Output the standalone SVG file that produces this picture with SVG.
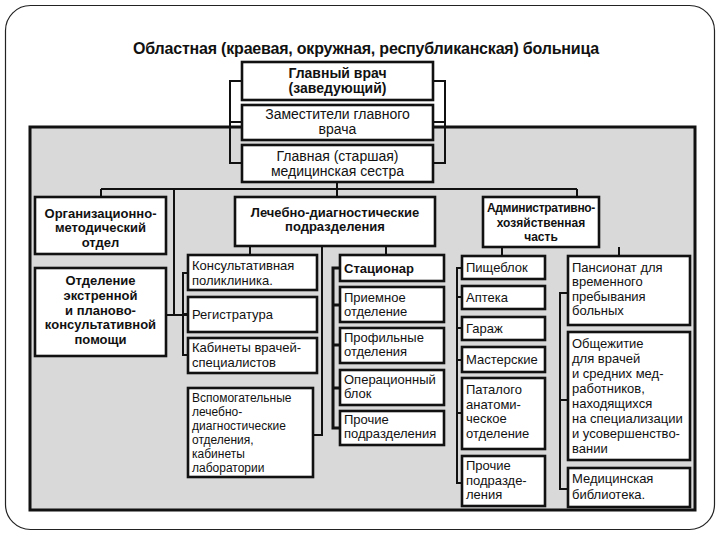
<svg xmlns="http://www.w3.org/2000/svg" width="720" height="540" viewBox="0 0 720 540">
<style>
.box{fill:#fff;stroke:#111;stroke-width:2.6}
.ln{fill:none;stroke:#111;stroke-width:2}
.lnb{fill:none;stroke:#111;stroke-width:3}
text{font-family:"Liberation Sans",Arial,sans-serif;font-size:13px;fill:#111}
.c{text-anchor:middle}
.b{font-weight:bold}
.big{font-size:14px}
.sm{font-size:12px}
</style>
<rect x="0" y="0" width="720" height="540" fill="#fff"/>
<rect x="5.5" y="5.5" width="709" height="524" rx="25" fill="#fff" stroke="#222" stroke-width="1.2"/>
<text x="366" y="54" class="c b" style="font-size:16px;letter-spacing:-0.2px">Областная (краевая, окружная, республиканская) больница</text>
<rect x="30" y="127" width="665" height="383" fill="#d9d9d9" stroke="#111" stroke-width="3"/>

<g id="connectors">
<path class="ln" d="M242,81 H230 V163 H242 M230,122 H242"/>
<path class="ln" d="M433,81 H445 V163 H433 M445,122 H433"/>
<path class="ln" d="M337,182 V197 M101,189 H577 M101,189 V197 M174,189 V315 M166,315 H188 M577,189 V197"/>
<path class="ln" d="M250,246 V255 M322,246 V435 H313 M386,246 V255"/>
<path class="ln" d="M188,273 H183 V355 H188 M183,314 H188"/>
<path class="lnb" d="M340,268 H333 V428 H340 M333,305 H340 M333,345 H340 M333,388 H340"/>
<path class="ln" d="M502,247 V256 M619,247 V256"/>
<path class="ln" d="M462,268 H457 V483 H462 M457,297 H462 M457,328 H462 M457,360 H462 M457,413 H462"/>
<path class="ln" d="M568,293 H560 V489 H568 M560,400 H568"/>
</g>

<g id="chief">
<rect class="box" x="242" y="62" width="191" height="38"/>
<text x="337.5" y="78" class="c b big">Главный врач</text>
<text x="337.5" y="93" class="c b big">(заведующий)</text>
</g>
<g id="deputies">
<rect class="box" x="242" y="105" width="191" height="35"/>
<text x="337.5" y="119" class="c big">Заместители главного</text>
<text x="337.5" y="134" class="c big">врача</text>
</g>
<g id="head-nurse">
<rect class="box" x="242" y="145" width="191" height="37"/>
<text x="337.5" y="161" class="c big">Главная (старшая)</text>
<text x="337.5" y="176" class="c big">медицинская сестра</text>
</g>

<g id="org-method">
<rect class="box" x="35" y="197" width="131" height="57"/>
<text x="100.5" y="218" class="c b">Организационно-</text>
<text x="100.5" y="232" class="c b">методический</text>
<text x="100.5" y="247" class="c b">отдел</text>
</g>
<g id="emergency">
<rect class="box" x="35" y="268" width="131" height="88"/>
<text x="100.5" y="285" class="c b">Отделение</text>
<text x="100.5" y="300" class="c b">экстренной</text>
<text x="100.5" y="315" class="c b">и планово-</text>
<text x="100.5" y="329" class="c b">консультативной</text>
<text x="100.5" y="344" class="c b">помощи</text>
</g>
<g id="treatment">
<rect class="box" x="235" y="197" width="200" height="49"/>
<text x="335" y="217" class="c b">Лечебно-диагностические</text>
<text x="335" y="231" class="c b">подразделения</text>
</g>
<g id="admin">
<rect class="box" x="483" y="197" width="116" height="50"/>
<text x="541" y="212" class="c b sm" style="letter-spacing:-0.3px">Административно-</text>
<text x="541" y="227" class="c b sm">хозяйственная</text>
<text x="541" y="241" class="c b sm">часть</text>
</g>

<g id="polyclinic">
<rect class="box" x="188" y="255" width="129" height="35"/>
<text x="192" y="270">Консультативная</text>
<text x="192" y="285">поликлиника.</text>
</g>
<g id="registry">
<rect class="box" x="188" y="297" width="129" height="35"/>
<text x="192" y="319">Регистратура</text>
</g>
<g id="specialists">
<rect class="box" x="188" y="338" width="129" height="35"/>
<text x="192" y="352">Кабинеты врачей-</text>
<text x="192" y="367">специалистов</text>
</g>
<g id="auxiliary">
<rect class="box" x="188" y="388" width="125" height="89"/>
<text x="192" y="402" class="sm">Вспомогательные</text>
<text x="192" y="416" class="sm">лечебно-</text>
<text x="192" y="430" class="sm">диагностические</text>
<text x="192" y="444" class="sm">отделения,</text>
<text x="192" y="458" class="sm">кабинеты</text>
<text x="192" y="472" class="sm">лаборатории</text>
</g>

<g id="hospital">
<rect class="box" x="340" y="255" width="104" height="26"/>
<text x="344" y="273" class="b">Стационар</text>
</g>
<g id="admission">
<rect class="box" x="340" y="287" width="104" height="35"/>
<text x="344" y="302">Приемное</text>
<text x="344" y="316">отделение</text>
</g>
<g id="profile">
<rect class="box" x="340" y="328" width="104" height="35"/>
<text x="344" y="342">Профильные</text>
<text x="344" y="356">отделения</text>
</g>
<g id="surgery">
<rect class="box" x="340" y="370" width="104" height="35"/>
<text x="344" y="384">Операционный</text>
<text x="344" y="398">блок</text>
</g>
<g id="other-units">
<rect class="box" x="340" y="411" width="104" height="34"/>
<text x="344" y="424">Прочие</text>
<text x="344" y="438">подразделения</text>
</g>

<g id="kitchen">
<rect class="box" x="462" y="256" width="83" height="23"/>
<text x="466" y="272">Пищеблок</text>
</g>
<g id="pharmacy">
<rect class="box" x="462" y="286" width="83" height="23"/>
<text x="466" y="302">Аптека</text>
</g>
<g id="garage">
<rect class="box" x="462" y="317" width="83" height="23"/>
<text x="466" y="333">Гараж</text>
</g>
<g id="workshops">
<rect class="box" x="462" y="347" width="83" height="25"/>
<text x="466" y="364">Мастерские</text>
</g>
<g id="pathology">
<rect class="box" x="462" y="378" width="83" height="71"/>
<text x="466" y="394">Паталого</text>
<text x="466" y="409">анатоми-</text>
<text x="466" y="423">ческое</text>
<text x="466" y="438">отделение</text>
</g>
<g id="other-admin">
<rect class="box" x="462" y="456" width="83" height="50"/>
<text x="466" y="470">Прочие</text>
<text x="466" y="485">подразде-</text>
<text x="466" y="499">ления</text>
</g>

<g id="boarding">
<rect class="box" x="568" y="256" width="122" height="69"/>
<text x="572" y="272">Пансионат для</text>
<text x="572" y="286">временного</text>
<text x="572" y="301">пребывания</text>
<text x="572" y="315">больных</text>
</g>
<g id="dormitory">
<rect class="box" x="568" y="332" width="122" height="128"/>
<text x="572" y="348">Общежитие</text>
<text x="572" y="363">для врачей</text>
<text x="572" y="378">и средних мед-</text>
<text x="572" y="393">работников,</text>
<text x="572" y="408">находящихся</text>
<text x="572" y="423">на специализации</text>
<text x="572" y="438">и усовершенство-</text>
<text x="572" y="453">вании</text>
</g>
<g id="library">
<rect class="box" x="568" y="468" width="122" height="39"/>
<text x="572" y="483">Медицинская</text>
<text x="572" y="499">библиотека.</text>
</g>
</svg>
